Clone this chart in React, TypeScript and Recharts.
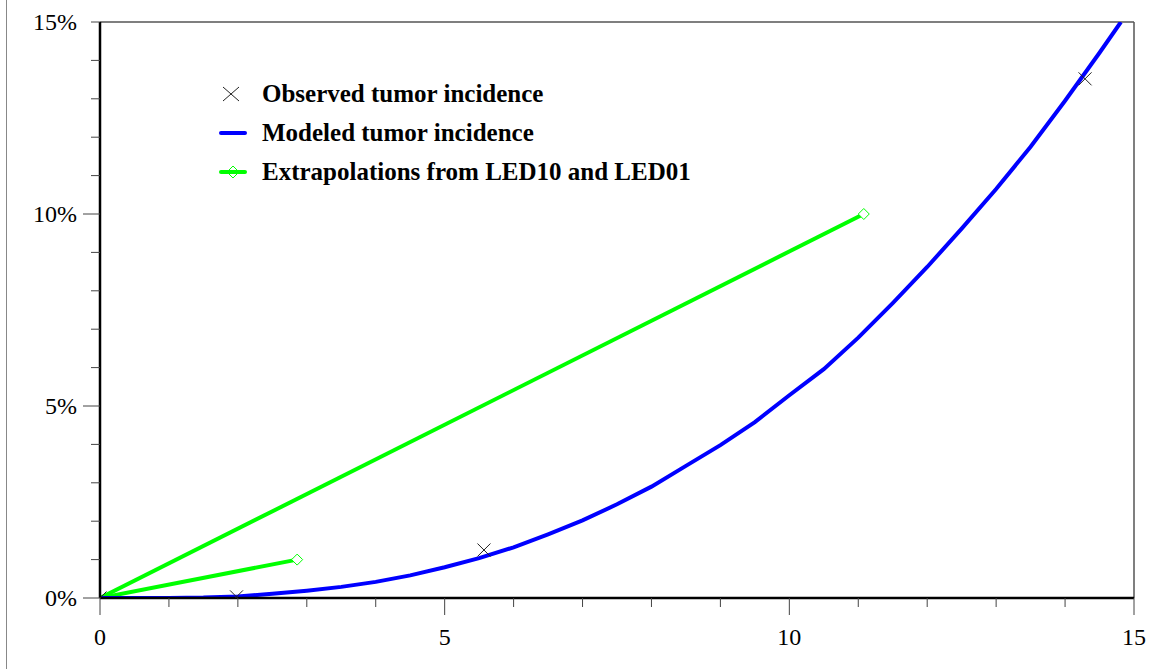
import React from "react";
import {
  ComposedChart, Line, Scatter, XAxis, YAxis, ReferenceLine
} from "recharts";

// dose on x, incidence (%) on y
const observed = [
  { x: 0, p: 0 },
  { x: 1.98, p: 0.03 },
  { x: 5.57, p: 1.25 },
  { x: 14.29, p: 13.52 },
];

const modeledX = [0, 1.0, 1.5, 2.0, 2.5, 3.0, 3.5, 4.0, 4.5, 5.0, 5.5, 6.0, 6.5, 7.0, 7.5, 8.0, 8.5, 9.0, 9.5, 10.0, 10.5, 11.0, 11.5, 12.0, 12.5, 13.0, 13.5, 14.0, 14.5, 14.81];
const modeledP = [0, 0, 0.01, 0.04, 0.11, 0.19, 0.29, 0.42, 0.59, 0.8, 1.04, 1.32, 1.66, 2.02, 2.44, 2.9, 3.44, 3.98, 4.58, 5.28, 5.96, 6.78, 7.68, 8.62, 9.62, 10.65, 11.75, 12.95, 14.2, 15.0];
const modeled = modeledX.map((x, i) => ({ x, p: modeledP[i] }));

const led10 = [{ x: 0, p: 0 }, { x: 11.08, p: 10 }];
const led01 = [{ x: 0, p: 0 }, { x: 2.86, p: 1 }];

const xTicks = [0, 1, 2, 3, 4, 5, 6, 7, 8, 9, 10, 11, 12, 13, 14, 15];
const yTicks = [0, 1, 2, 3, 4, 5, 6, 7, 8, 9, 10, 11, 12, 13, 14, 15];

const legendItems = [
  { label: "Observed tumor incidence", kind: "x" },
  { label: "Modeled tumor incidence", kind: "blue" },
  { label: "Extrapolations from LED10 and LED01", kind: "green" },
];

const FONT = "'Liberation Serif', 'Times New Roman', serif";

const XTick = (props: any) => {
  const { x, y, payload } = props;
  const major = payload.value % 5 === 0;
  return (
    <g>
      <line x1={x} x2={x} y1={y} y2={y + (major ? 17 : 9)} stroke="#444" strokeWidth={1} />
      {major && (
        <text x={x} y={y + 47} textAnchor="middle" fontSize={24} fontFamily={FONT} fill="#000">
          {payload.value}
        </text>
      )}
    </g>
  );
};

const YTick = (props: any) => {
  const { x, y, payload } = props;
  const major = payload.value % 5 === 0 && payload.value !== 15;
  return (
    <g>
      <line x1={x - (major ? 17 : 9)} x2={x} y1={y} y2={y} stroke="#444" strokeWidth={1} />
      {payload.value % 5 === 0 && (
        <text x={x - 23} y={y} dy="0.35em" textAnchor="end" fontSize={24} fontFamily={FONT} fill="#000">
          {payload.value}%
        </text>
      )}
    </g>
  );
};

const Cross = (props: any) => {
  const { cx, cy } = props;
  const s = 6.5;
  return (
    <path d={`M${cx - s},${cy - s}L${cx + s},${cy + s}M${cx - s},${cy + s}L${cx + s},${cy - s}`} stroke="#222" strokeWidth={1} fill="none" />
  );
};

const Diamond = (props: any) => {
  const { cx, cy, payload, index } = props;
  if (!payload || payload.x === 0) return <g key={index} />;
  const s = 5.5;
  return (
    <path key={index} d={`M${cx},${cy - s}L${cx + s},${cy}L${cx},${cy + s}L${cx - s},${cy}Z`} stroke="#00ff00" strokeWidth={1} fill="#fff" />
  );
};

const LegendBox = () => (
  <div style={{ position: "absolute", left: 215, top: 74, fontFamily: FONT }}>
    {legendItems.map((it) => (
      <div key={it.label} style={{ display: "flex", alignItems: "center", height: 39 }}>
        <svg width={40} height={20} style={{ marginLeft: 4 }}>
          {it.kind === "x" && <path d="M4,3L20,17M4,17L20,3" stroke="#222" strokeWidth={1} />}
          {it.kind === "blue" && <line x1={2} x2={26} y1={10} y2={10} stroke="#0000ff" strokeWidth={4} strokeLinecap="round" />}
          {it.kind === "green" && (
            <g>
              <line x1={2} x2={26} y1={10} y2={10} stroke="#00ff00" strokeWidth={4} strokeLinecap="round" />
              <path d="M14,4L20,10L14,16L8,10Z" stroke="#00ff00" strokeWidth={1} fill="none" />
            </g>
          )}
        </svg>
        <span style={{ fontWeight: "bold", fontSize: 25, color: "#000", marginLeft: 3 }}>{it.label}</span>
      </div>
    ))}
  </div>
);

const App: React.FC = () => {
  return (
    <div style={{ position: "absolute", left: 0, top: 0, width: 1165, height: 669, background: "#fff" }}>
      <div style={{ position: "absolute", left: 6, top: 0, width: 1, height: 669, background: "#888" }} />
      <ComposedChart width={1165} height={669} margin={{ top: 22, right: 31, bottom: 0, left: 0 }}>
        <XAxis
          type="number"
          dataKey="x"
          domain={[0, 15]}
          ticks={xTicks}
          interval={0}
          height={71}
          tickSize={0}
          tickMargin={0}
          tickLine={false}
          tick={<XTick />}
          axisLine={{ stroke: "#000", strokeWidth: 2.5 }}
          allowDataOverflow
        />
        <YAxis
          type="number"
          dataKey="p"
          domain={[0, 15]}
          ticks={yTicks}
          interval={0}
          width={100}
          tickSize={0}
          tickMargin={0}
          tickLine={false}
          tick={<YTick />}
          axisLine={{ stroke: "#000", strokeWidth: 2.5 }}
          allowDataOverflow
        />
        <ReferenceLine y={15} stroke="#555" strokeWidth={1.5} segment={[{ x: -0.13, y: 15 }, { x: 15, y: 15 }]} ifOverflow="visible" />
        <ReferenceLine x={15} stroke="#555" strokeWidth={1.5} />
        <Line data={led10} dataKey="p" type="linear" stroke="#00ff00" strokeWidth={4} dot={Diamond} isAnimationActive={false} />
        <Line data={led01} dataKey="p" type="linear" stroke="#00ff00" strokeWidth={4} dot={Diamond} isAnimationActive={false} />
        <Line data={modeled} dataKey="p" type="linear" stroke="#0000ff" strokeWidth={4} dot={false} isAnimationActive={false} />
        <Scatter data={observed} dataKey="p" shape={Cross} isAnimationActive={false} />
      </ComposedChart>
      <LegendBox />
    </div>
  );
};

export default App;
